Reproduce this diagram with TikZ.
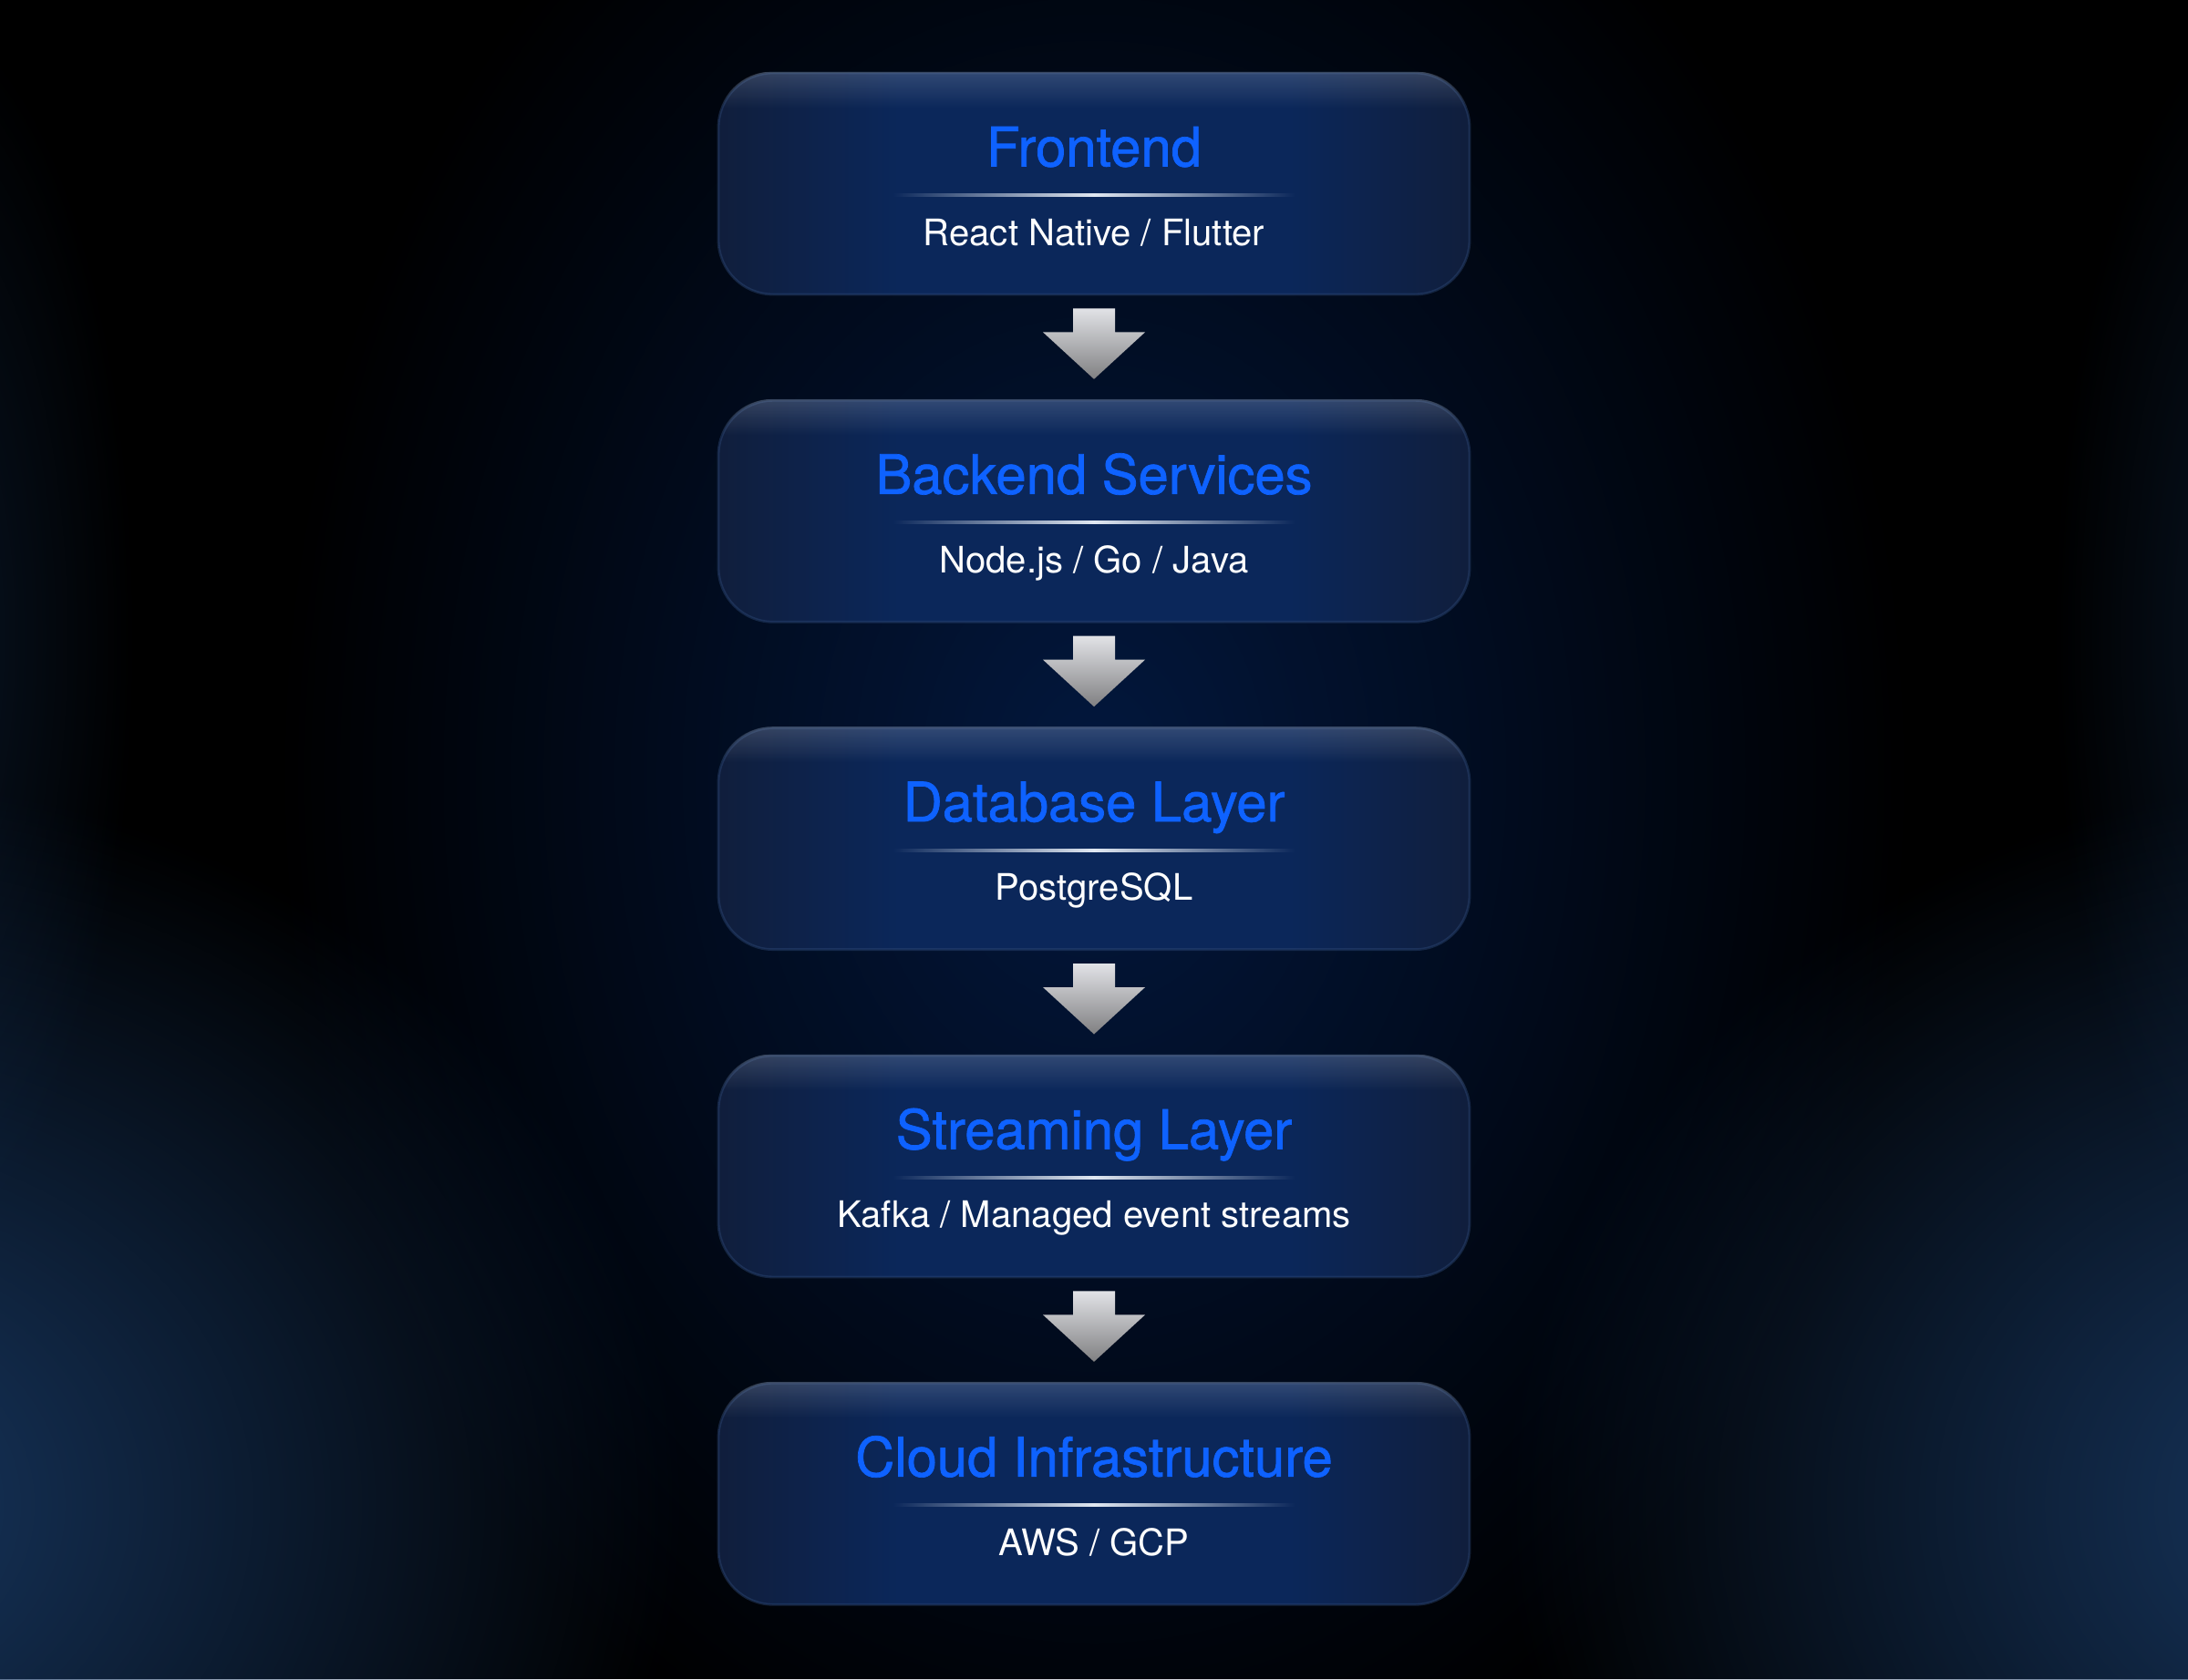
\documentclass[tikz,border=0pt]{standalone}
\usepackage{fontspec}
\setmainfont{TeX Gyre Heros}
\newfontfamily\ttlfont[FakeBold=1.2]{TeX Gyre Heros}
\usepackage{xcolor}
\usepackage{tikz}
\usetikzlibrary{positioning,calc,fadings}

\definecolor{bgglow}{RGB}{24,56,98}
\definecolor{bghaze}{RGB}{3,24,62}
\definecolor{boxmid}{RGB}{11,39,90}
\definecolor{boxedge}{RGB}{16,30,60}
\definecolor{boxrim}{RGB}{45,72,118}
\definecolor{ttlblue}{RGB}{14,98,255}
\definecolor{rulec}{RGB}{225,232,242}
\definecolor{arrtop}{RGB}{225,226,230}
\definecolor{arrbot}{RGB}{128,128,130}

\tikzfading[name=glowfade, inner color=transparent!0, outer color=transparent!100]
\tikzfading[name=rimfade, top color=transparent!0, bottom color=transparent!100]
\pgfdeclarehorizontalshading{layershade}{100bp}{color(0bp)=(boxedge); color(25bp)=(boxedge);
  color(37bp)=(boxmid); color(63bp)=(boxmid); color(75bp)=(boxedge); color(100bp)=(boxedge)}

\tikzset{
  layer/.style={draw=boxrim, draw opacity=.45, line width=0.8pt, rounded corners=6mm,
    shading=layershade,
    minimum width=8.24cm, minimum height=2.43cm, inner sep=0pt},
  ttl/.style={anchor=base, text=ttlblue, font=\ttlfont\fontsize{17}{19}\selectfont},
  sub/.style={anchor=base, text=white, font=\fontsize{11.4}{13}\selectfont}
}

\begin{document}
\begin{tikzpicture}[node distance=1.135cm]
    \useasboundingbox (0,0) rectangle (24,-18.42);
    % background
    \fill[black] (0,0) rectangle (24,-18.42);
    \fill[bghaze, path fading=glowfade] (12,-8.5) ellipse (9 and 12);
    \fill[bgglow, path fading=glowfade] (-2,-16.5) ellipse (9.5 and 8);
    \fill[bgglow, path fading=glowfade] (26,-16.5) ellipse (9.5 and 8);
    \fill[bgglow, opacity=.4, path fading=glowfade] (-1,-7) ellipse (2.5 and 7);
    \fill[bgglow, opacity=.4, path fading=glowfade] (25,-7) ellipse (2.5 and 7);

    % layers
    \node [layer] (front) at (12,-2.015) {};
    \node [layer, below=of front] (back) {};
    \node [layer, below=of back] (db) {};
    \node [layer, below=of db] (stream) {};
    \node [layer, below=of stream] (cloud) {};

    \node [ttl] (frontT) at ([yshift=1.9mm]front.center) {Frontend};
    \node [sub] (frontS) at ([yshift=-6.75mm]front.center) {React Native / Flutter};
    \node [ttl] (backT) at ([yshift=1.9mm]back.center) {Backend Services};
    \node [sub] (backS) at ([yshift=-6.75mm]back.center) {Node.js / Go / Java};
    \node [ttl] (dbT) at ([yshift=1.9mm]db.center) {Database Layer};
    \node [sub] (dbS) at ([yshift=-6.75mm]db.center) {PostgreSQL};
    \node [ttl] (streamT) at ([yshift=1.9mm]stream.center) {Streaming Layer};
    \node [sub] (streamS) at ([yshift=-6.75mm]stream.center) {Kafka / Managed event streams};
    \node [ttl] (cloudT) at ([yshift=1.9mm]cloud.center) {Cloud Infrastructure};
    \node [sub] (cloudS) at ([yshift=-6.75mm]cloud.center) {AWS / GCP};

    % rim light and divider
    \foreach \b in {front,back,db,stream,cloud} {
        \begin{scope}
            \clip[rounded corners=6mm] (\b.south west) rectangle (\b.north east);
            \fill[white, opacity=.16, path fading=rimfade] (\b.north west) rectangle ([yshift=-4mm]\b.north east);
        \end{scope}
        \shade[left color=boxmid, right color=boxmid, middle color=rulec]
            ([xshift=-2.2cm,yshift=-1.4mm]\b.center) rectangle ([xshift=2.2cm,yshift=-1.1mm]\b.center);
    }

    % arrows
    \foreach \a/\n in {front/back, back/db, db/stream, stream/cloud} {
        \shade[top color=arrtop, bottom color=arrbot]
            ([xshift=-2.3mm,yshift=-1.4mm]\a.south) -- ([xshift=2.3mm,yshift=-1.4mm]\a.south)
            -- ([xshift=2.3mm,yshift=-4mm]\a.south) -- ([xshift=5.6mm,yshift=-4mm]\a.south)
            -- ([yshift=2.2mm]\n.north) -- ([xshift=-5.6mm,yshift=-4mm]\a.south)
            -- ([xshift=-2.3mm,yshift=-4mm]\a.south) -- cycle;
    }
\end{tikzpicture}
\end{document}
